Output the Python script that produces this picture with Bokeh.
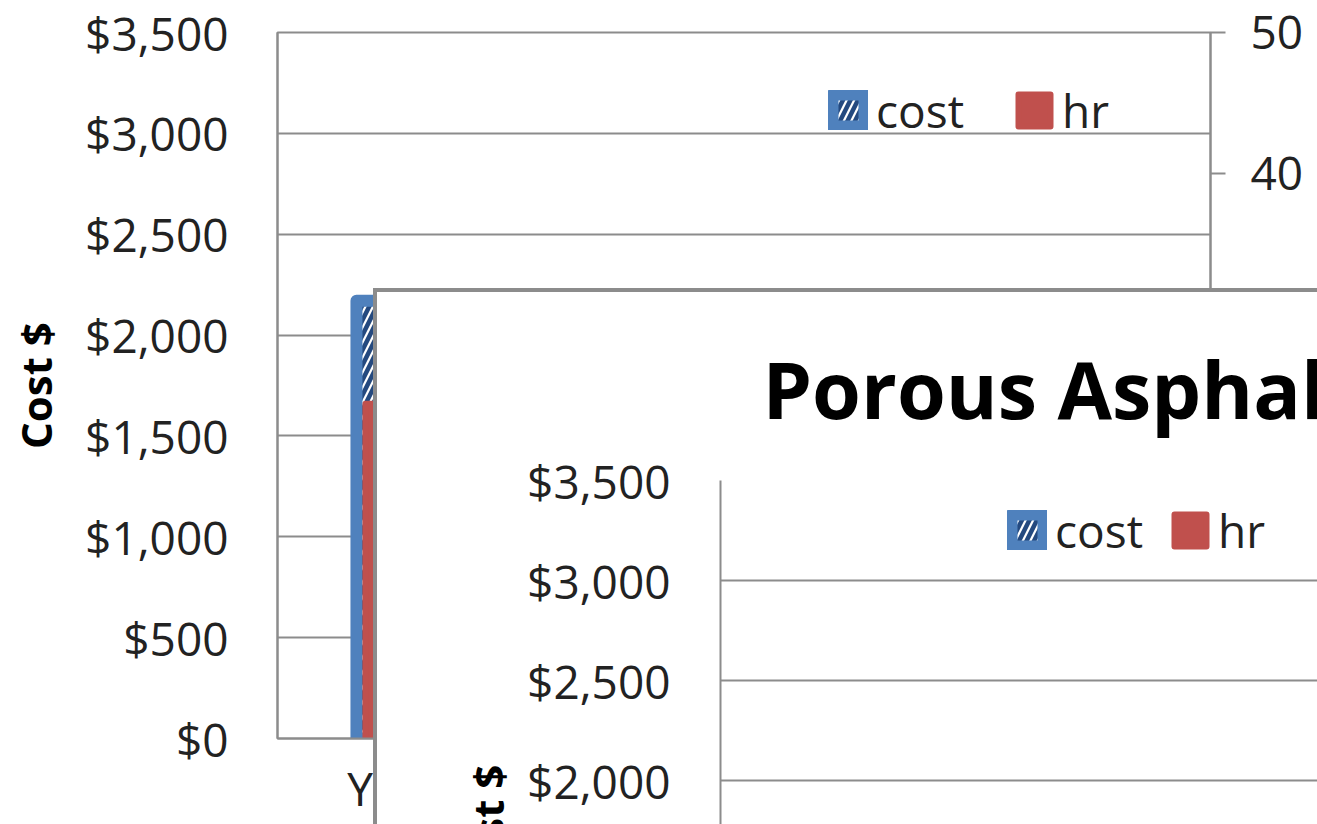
from bokeh.plotting import figure
from bokeh.models import (Range1d, LinearAxis, FixedTicker, Legend,
                          ColumnDataSource, NumeralTickFormatter, Title)
from bokeh.layouts import column
from bokeh.embed import file_html
from bokeh.resources import INLINE

# ---------------- data ----------------
categories = ["Year 1"]
cost = [2170]
hr = [23.7]
cost_ticks = [0, 500, 1000, 1500, 2000, 2500, 3000, 3500]
hr_ticks = [0, 10, 20, 30, 40, 50]
inset_title = "Porous Asphalt"
inset_categories = ["Year 1"]
inset_cost = [float("nan")]   # bars of the overlapping chart are outside the visible area
inset_hr = [float("nan")]

BLUE = "#4f81bd"
RED = "#c0504d"
HATCH = "#24497f"
GRID = "#8c8c8c"
FONT = "Open Sans"
TXT = "#222222"

xs = list(range(len(categories)))

# ---------------- background chart ----------------
p = figure(width=1317, height=824, x_range=Range1d(-0.587, 3.413), y_range=Range1d(0, 3500),
           output_backend="svg", toolbar_location=None,
           min_border_left=277, min_border_top=32, min_border_right=107, min_border_bottom=86)
p.extra_y_ranges = {"hr": Range1d(0, 50)}

src = ColumnDataSource(dict(x=xs, cost=cost, hr=hr))
cost_r = p.vbar(x="x", top="cost", bottom=0, width=0.497, source=src,
                fill_color="white", line_color=BLUE, line_width=12, line_join="round",
                hatch_pattern="/", hatch_color=HATCH, hatch_scale=15, hatch_weight=4.5)
hr_r = p.vbar(x="x", top="hr", bottom=0, width=0.42, source=src, y_range_name="hr",
              fill_color=RED, line_color=RED, line_width=6, line_join="round")

p.outline_line_color = GRID
p.outline_line_width = 2
p.xgrid.visible = False
p.ygrid.grid_line_color = GRID
p.ygrid.grid_line_width = 2
p.ygrid.ticker = FixedTicker(ticks=cost_ticks)

ya = p.yaxis[0]
ya.ticker = FixedTicker(ticks=cost_ticks)
ya.formatter = NumeralTickFormatter(format="$0,0")
ya.major_tick_out = 0
ya.major_tick_in = 0
ya.minor_tick_out = 0
ya.minor_tick_in = 0
ya.major_label_standoff = 49
ya.axis_line_color = GRID
ya.axis_line_width = 2
ya.major_label_text_font = FONT
ya.major_label_text_font_size = "46px"
ya.major_label_text_color = TXT
ya.axis_label = "Cost $"
ya.axis_label_text_font = FONT
ya.axis_label_text_font_size = "42px"
ya.axis_label_text_font_style = "bold"
ya.axis_label_text_color = "#000000"
ya.axis_label_standoff = 18

xa = p.xaxis[0]
xa.ticker = FixedTicker(ticks=xs)
xa.major_label_overrides = {x: c for x, c in zip(xs, categories)}
xa.major_tick_out = 0
xa.major_tick_in = 0
xa.minor_tick_out = 0
xa.minor_tick_in = 0
xa.axis_line_color = GRID
xa.axis_line_width = 2
xa.major_label_standoff = 18
xa.major_label_text_font = FONT
xa.major_label_text_font_size = "46px"
xa.major_label_text_color = TXT

ra = LinearAxis(y_range_name="hr", ticker=FixedTicker(ticks=hr_ticks))
ra.major_tick_out = 15
ra.major_tick_in = 0
ra.minor_tick_out = 0
ra.minor_tick_in = 0
ra.major_tick_line_color = GRID
ra.major_tick_line_width = 2
ra.axis_line_color = GRID
ra.axis_line_width = 2
ra.major_label_standoff = 25
ra.major_label_text_font = FONT
ra.major_label_text_font_size = "46px"
ra.major_label_text_color = TXT
p.add_layout(ra, "right")

leg = Legend(items=[("cost", [cost_r]), ("hr", [hr_r])], orientation="horizontal",
             location=(551, 597), glyph_width=40, glyph_height=40, label_height=40,
             label_text_font=FONT, label_text_font_size="46px", label_text_color=TXT,
             label_standoff=8, spacing=50, padding=0, margin=0,
             border_line_color=None, background_fill_alpha=0)
p.add_layout(leg)

# ---------------- overlapping inset chart ----------------
ixs = list(range(len(inset_categories)))
q = figure(width=940, height=532, x_range=Range1d(-0.587, 3.413), y_range=Range1d(1780, 3500),
           output_backend="svg", toolbar_location=None, x_axis_location=None,
           min_border_left=343, min_border_top=188, min_border_bottom=0, min_border_right=0)
q.extra_y_ranges = {"hr": Range1d(0, 50)}
q.title = Title(text=inset_title, text_font=FONT, text_font_size="79px",
                text_font_style="bold", text_color="#000000", align="left",
                offset=42, standoff=77)
isrc = ColumnDataSource(dict(x=ixs, cost=inset_cost, hr=inset_hr))
icost = q.vbar(x="x", top="cost", bottom=0, width=0.497, source=isrc,
               fill_color="white", line_color=BLUE, line_width=12, line_join="round",
               hatch_pattern="/", hatch_color=HATCH, hatch_scale=15, hatch_weight=4.5)
ihr = q.vbar(x="x", top="hr", bottom=0, width=0.42, source=isrc, y_range_name="hr",
             fill_color=RED, line_color=RED, line_width=6, line_join="round")
q.outline_line_color = None
q.xgrid.visible = False
q.ygrid.grid_line_color = GRID
q.ygrid.grid_line_width = 2
q.ygrid.ticker = FixedTicker(ticks=cost_ticks)
qa = q.yaxis[0]
qa.ticker = FixedTicker(ticks=cost_ticks)
qa.formatter = NumeralTickFormatter(format="$0,0")
qa.major_tick_out = 0
qa.major_tick_in = 0
qa.minor_tick_out = 0
qa.minor_tick_in = 0
qa.major_label_standoff = 50
qa.axis_line_color = GRID
qa.axis_line_width = 2
qa.major_label_text_font = FONT
qa.major_label_text_font_size = "46px"
qa.major_label_text_color = TXT

# the inset's rotated axis title, mostly below the visible area
q.add_layout(Title(text="Cost $", text_font=FONT, text_font_size="42px",
                   text_font_style="bold", text_color="#000000", align="left",
                   offset=-67, standoff=18), "left")

ileg = Legend(items=[("cost", [icost]), ("hr", [ihr])], orientation="horizontal",
              location=(287, 263), glyph_width=40, glyph_height=40, label_height=40,
              label_text_font=FONT, label_text_font_size="46px", label_text_color=TXT,
              label_standoff=8, spacing=27, padding=0, margin=0,
              border_line_color=None, background_fill_alpha=0)
q.add_layout(ileg)

inset = column(q, spacing=0,
               styles={"margin-top": "-536px", "margin-left": "373px",
                       "border-left": "4px solid #8c8c8c", "border-top": "4px solid #8c8c8c",
                       "background-color": "white"})

layout = column(p, inset, spacing=0)
open("out.html", "w").write(file_html(layout, INLINE))
